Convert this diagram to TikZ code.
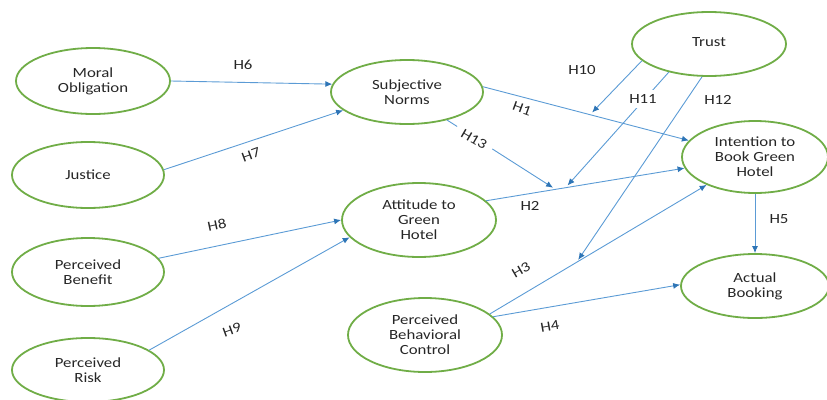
\documentclass[tikz,border=0pt]{standalone}
\usepackage{fontspec}
\setmainfont[FakeStretch=1.2]{Carlito}
\usetikzlibrary{shapes.geometric,arrows.meta}
\definecolor{ellgreen}{RGB}{112,173,71}
\definecolor{arrblue}{RGB}{91,155,213}
\definecolor{tipblue}{RGB}{46,117,182}
\begin{document}
\begin{tikzpicture}[x=1pt,y=-1pt,
  construct/.style={ellipse,draw=ellgreen,line width=1.8pt,inner sep=0pt,
    align=center,font=\fontsize{14}{15}\selectfont,text=black!85},
  link/.style={draw=arrblue,line width=0.9pt,-{Latex[length=7pt,width=6pt,color=tipblue]}},
  hyp/.style={font=\fontsize{14}{15}\selectfont,text=black!85,inner sep=1pt},
  gap/.style={hyp,fill=white,inner sep=4pt}]
\useasboundingbox (0,0) rectangle (827,399);
% constructs
\node[construct,minimum width=154pt,minimum height=66pt] (mo) at (93,81) {Moral\\Obligation};
\node[construct,minimum width=152pt,minimum height=66pt] (ju) at (88,175) {Justice};
\node[construct,minimum width=152pt,minimum height=64pt] (sn) at (407,92) {Subjective\\Norms};
\node[construct,minimum width=154pt,minimum height=64pt] (tr) at (709,44) {\raisebox{4pt}{Trust}};
\node[construct,minimum width=146pt,minimum height=72pt] (in) at (755,157) {Intention to\\Book Green\\Hotel};
\node[construct,minimum width=154pt,minimum height=74pt] (at) at (419,220) {Attitude to\\Green\\Hotel};
\node[construct,minimum width=152pt,minimum height=68pt] (pb) at (88,272) {Perceived\\Benefit};
\node[construct,minimum width=152pt,minimum height=64pt] (pr) at (88,370) {Perceived\\Risk};
\node[construct,minimum width=154pt,minimum height=74pt] (pc) at (425,335) {Perceived\\Behavioral\\Control};
\node[construct,minimum width=148pt,minimum height=64pt] (ab) at (755,286) {Actual\\Booking};
% direct paths
\draw[link] (mo.east) -- (sn.174);
\draw[link] (ju.4.5) -- (sn.196.5);
\draw[link] (sn.4.5) -- coordinate[pos=0.52] (m10) (in.166);
\draw[link] (at.16.9) -- coordinate[pos=0.35] (m13) coordinate[pos=0.40] (m11) (in.189);
\draw[link] (pc.18.7) -- coordinate[pos=0.40] (m12) (in.210.8);
\draw[link] (pc.15.8) -- (ab.179);
\draw[link] (in.south) -- (ab.north);
\draw[link] (pb.11.5) -- (at.180.75);
\draw[link] (pr.18.7) -- (at.194);
% moderating paths
\draw[link,shorten >=3pt] (tr.194.8) -- (m10);
\draw[link,shorten >=3pt] (tr.215.7) -- (m11);
\draw[link,shorten >=3pt] (tr.258) -- (m12);
\draw[link,shorten >=3pt] (sn.325) -- (m13);
% labels
\node[hyp] (h6) at (243,65) {H6};
\node[hyp,rotate=20] (h7) at (251,155) {H7};
\node[hyp,rotate=12] (h8) at (217,225) {H8};
\node[hyp,rotate=20] (h9) at (232,330) {H9};
\node[hyp] (h10) at (582,70) {H10};
\node[gap] (h11) at (643,99) {H11};
\node[hyp] (h12) at (718,100) {H12};
\node[hyp,rotate=-20] (h1) at (522,109) {H1};
\node[gap,rotate=-30,inner sep=7pt] (h13) at (474,139) {H13};
\node[hyp] (h2) at (530,206) {H2};
\node[hyp,rotate=30] (h3) at (521,270) {H3};
\node[hyp,rotate=10] (h4) at (550,326) {H4};
\node[hyp] (h5) at (779,219) {H5};
\end{tikzpicture}
\end{document}
